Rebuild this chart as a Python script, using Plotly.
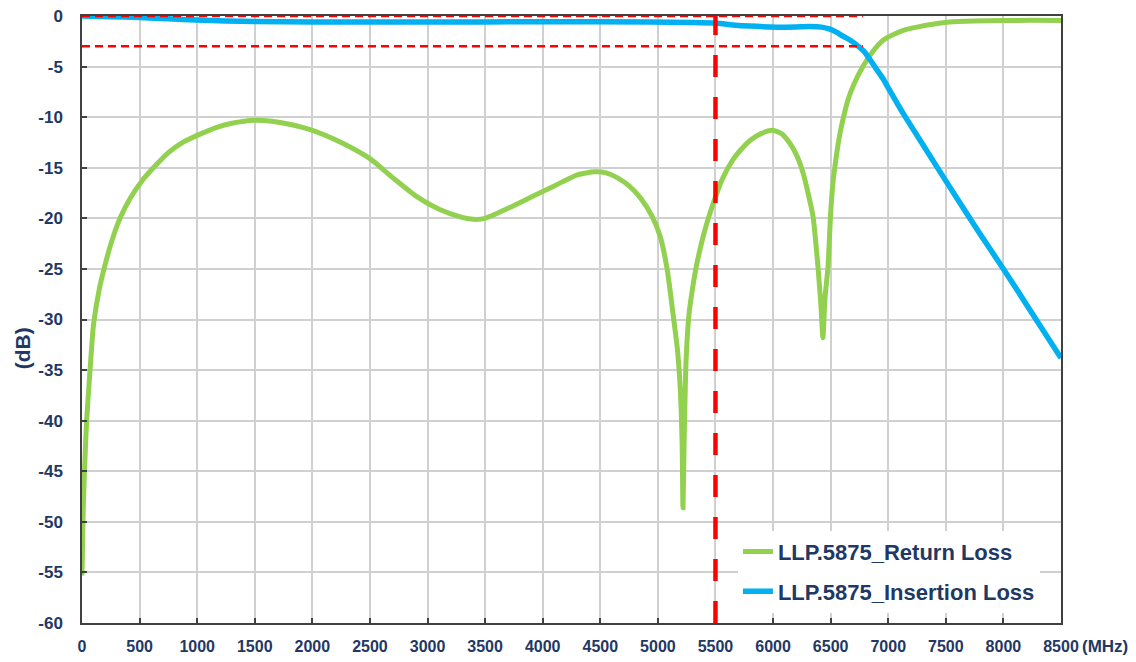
import plotly.graph_objects as go

# ---- data ----
rl_freq = [0, 5, 10, 20, 40, 70, 100, 150, 200, 260, 330, 420, 520, 620, 750, 875, 1000,
           1170, 1300, 1500, 1650, 1800, 2000, 2250, 2500, 2700, 2900, 3100, 3300, 3400,
           3500, 3700, 3900, 4100, 4300, 4450, 4550, 4650, 4750, 4850, 4950, 5020, 5080,
           5131, 5170, 5195, 5210, 5218, 5228, 5245, 5270, 5300, 5340, 5400, 5452, 5500,
           5556, 5652, 5730, 5800, 5900, 5990, 6070, 6147, 6210, 6260, 6310, 6347, 6390,
           6415, 6433, 6450, 6477, 6500, 6520, 6550, 6581, 6620, 6650, 6700, 6780, 6860,
           6955, 7050, 7150, 7250, 7400, 7536, 7750, 8000, 8250, 8500]
rl_db = [-55.3, -52, -49, -45.5, -40, -35, -30.5, -27, -24.6, -22.2, -20.0, -18.0, -16.3,
         -15.0, -13.5, -12.5, -11.8, -11, -10.6, -10.3, -10.4, -10.7, -11.3, -12.5, -14.1,
         -16.0, -17.8, -19.1, -19.9, -20.1, -20.0, -19.0, -17.9, -16.8, -15.7, -15.4, -15.5,
         -16.0, -16.8, -18.0, -19.8, -21.8, -25, -29.4, -33, -37, -42, -48.6, -42, -34, -29.5,
         -27, -24.4, -21.5, -19.5, -17.9, -16.2, -14.2, -13.1, -12.3, -11.6, -11.3, -11.6,
         -12.6, -13.9, -15.5, -17.8, -19.8, -24.8, -28.5, -31.8, -28, -24.8, -19.5, -16.5,
         -13.8, -11.6, -9.6, -8.3, -6.8, -5.0, -3.6, -2.4, -1.8, -1.35, -1.1, -0.8, -0.6,
         -0.5, -0.45, -0.43, -0.45]

il_freq = [0, 250, 500, 750, 1000, 1250, 1500, 2000, 3000, 4000, 4931, 5300, 5510, 5650,
           5800, 6034, 6200, 6320, 6420, 6494, 6550, 6607, 6670, 6730, 6790, 6841, 6900,
           6955, 7000, 7128, 7300, 7500, 7800, 8000, 8250, 8500]
il_db = [0, -0.07, -0.15, -0.28, -0.4, -0.5, -0.55, -0.6, -0.6, -0.57, -0.6, -0.65, -0.72,
         -0.88, -1.0, -1.1, -1.08, -1.05, -1.1, -1.3, -1.6, -2.0, -2.4, -2.9, -3.5, -4.3,
         -5.3, -6.2, -7.1, -9.6, -12.7, -16.3, -21.6, -25.0, -29.4, -33.8]

series_names = ["LLP.5875_Return Loss", "LLP.5875_Insertion Loss"]
ref_h_levels = [0, -3]        # dB
ref_h_end = 6780              # MHz
ref_v_freq = 5500             # MHz

x_ticks = list(range(0, 8501, 500))
y_ticks = list(range(-60, 1, 5))

NAVY = "#1F3864"
GREEN = "#92D050"
BLUE = "#00B0F0"
RED = "#FF0000"
FONT = "Liberation Sans, Arial, sans-serif"

fig = go.Figure()
fig.add_trace(go.Scatter(x=rl_freq, y=rl_db, mode="lines", name=series_names[0],
                         line=dict(color=GREEN, width=5, shape="spline", smoothing=0.6),
                         legendgroup="a"))
fig.add_trace(go.Scatter(x=il_freq, y=il_db, mode="lines", name=series_names[1],
                         line=dict(color=BLUE, width=5.5, shape="spline", smoothing=0.6),
                         legendgroup="b"))

shapes = []
for lvl in ref_h_levels:
    shapes.append(dict(type="line", xref="x", yref="y", x0=0, x1=ref_h_end, y0=lvl, y1=lvl,
                       line=dict(color=RED, width=2.5, dash="8px,5px"), layer="above"))
shapes.append(dict(type="line", xref="x", yref="y", x0=ref_v_freq, x1=ref_v_freq, y0=-60, y1=0,
                   line=dict(color=RED, width=4.5, dash="22px,20px"), layer="above"))

fig.update_layout(
    width=1128, height=654,
    margin=dict(l=74, r=75, t=8, b=39, autoexpand=False),
    paper_bgcolor="white", plot_bgcolor="white",
    font=dict(family=FONT, color=NAVY),
    shapes=shapes,
    showlegend=True,
    legend=dict(x=0.67, y=0.152, xanchor="left", yanchor="top",
                bgcolor="white", borderwidth=0,
                font=dict(family=FONT, size=22, color=NAVY, weight="bold"),
                traceorder="grouped", tracegroupgap=8, itemwidth=30),
    annotations=[
        dict(text="<b>(dB)</b>", xref="paper", yref="paper", x=-0.061, y=0.453,
             xanchor="center", yanchor="middle", textangle=-90, showarrow=False,
             font=dict(family=FONT, size=21, color=NAVY)),
        dict(text="<b>(MHz)</b>", xref="paper", yref="paper", x=1.0195, y=-0.038,
             xanchor="left", yanchor="middle", showarrow=False,
             font=dict(family=FONT, size=17, color=NAVY)),
    ],
)

fig.update_xaxes(range=[0, 8500], tickvals=x_ticks, ticktext=[str(v) for v in x_ticks],
                 showgrid=True, gridcolor="#D0D0D0", gridwidth=1.5,
                 showline=True, linecolor="#404040", linewidth=1.5, mirror=True,
                 ticks="inside", ticklen=5, tickcolor="#404040", tickwidth=1.5,
                 tickfont=dict(family=FONT, size=16, color=NAVY, weight="bold"),
                 ticklabelstandoff=8, zeroline=False, automargin=False,
                 ticklabeloverflow="allow")
fig.update_yaxes(range=[-60, 0], tickvals=y_ticks, ticktext=[str(v) for v in y_ticks],
                 showgrid=True, gridcolor="#D0D0D0", gridwidth=1.5,
                 showline=True, linecolor="#404040", linewidth=1.5, mirror=True,
                 ticks="inside", ticklen=5, tickcolor="#404040", tickwidth=1.5,
                 tickfont=dict(family=FONT, size=17, color=NAVY, weight="bold"),
                 ticklabelstandoff=14, zeroline=False, automargin=False,
                 ticklabeloverflow="allow")

fig.write_html("out.html")
